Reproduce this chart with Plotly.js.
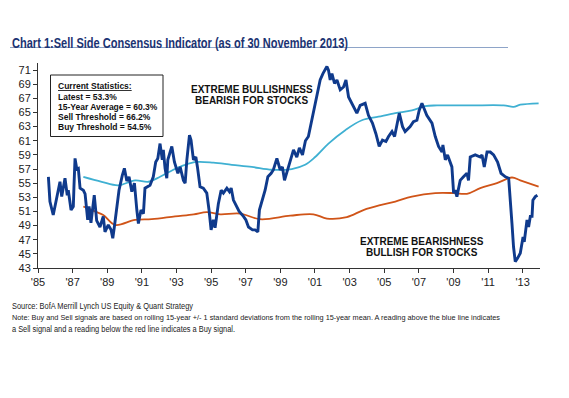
<!DOCTYPE html>
<html><head><meta charset="utf-8">
<script src="https://cdn.plot.ly/plotly-3.0.1.min.js"></script>
<style>html,body{margin:0;padding:0;background:#fff;}#chart{width:569px;height:398px;}</style>
</head><body><div id="chart"></div>
<script>
// Sell side consensus indicator (monthly-ish readings)
var consensusYears = [1985.60,1985.69,1985.88,1986.27,1986.37,1986.56,1986.69,1986.75,1986.91,1987.04,1987.08,1987.14,1987.24,1987.33,1987.43,1987.62,1987.72,1987.87,1987.95,1988.06,1988.25,1988.39,1988.58,1988.77,1988.87,1989.06,1989.22,1989.32,1989.41,1989.55,1989.68,1989.87,1989.99,1990.13,1990.26,1990.42,1990.57,1990.71,1990.80,1990.95,1991.09,1991.18,1991.47,1991.66,1991.80,1991.92,1992.05,1992.18,1992.24,1992.34,1992.44,1992.50,1992.73,1992.88,1993.08,1993.21,1993.40,1993.50,1993.60,1993.75,1993.84,1993.98,1994.12,1994.21,1994.36,1994.55,1994.75,1994.88,1995.00,1995.13,1995.23,1995.42,1995.58,1995.71,1995.91,1996.06,1996.16,1996.29,1996.49,1996.62,1996.87,1997.01,1997.16,1997.39,1997.54,1997.70,1997.79,1997.97,1998.12,1998.28,1998.47,1998.60,1998.80,1998.99,1999.12,1999.24,1999.43,1999.57,1999.76,1999.95,2000.10,2000.28,2000.45,2000.62,2000.82,2000.97,2001.11,2001.30,2001.46,2001.69,2001.78,2001.88,2001.98,2002.13,2002.27,2002.46,2002.65,2002.79,2002.94,2003.23,2003.42,2003.61,2003.90,2004.09,2004.32,2004.52,2004.71,2004.90,2005.10,2005.25,2005.45,2005.60,2005.73,2005.87,2006.06,2006.21,2006.50,2006.69,2006.89,2007.02,2007.18,2007.46,2007.76,2007.95,2008.14,2008.34,2008.39,2008.53,2008.66,2008.82,2008.91,2009.01,2009.10,2009.20,2009.39,2009.58,2009.78,2009.87,2009.97,2010.26,2010.55,2010.65,2010.78,2010.94,2011.13,2011.32,2011.55,2011.75,2012.00,2012.19,2012.28,2012.38,2012.47,2012.57,2012.71,2012.86,2013.02,2013.09,2013.25,2013.34,2013.44,2013.54,2013.59,2013.73,2013.85];
var consensusValues = [55.9,52.4,50.5,55.2,53.1,55.7,53.3,54.0,51.2,51.7,54.7,58.5,57.0,57.1,54.3,54.0,53.5,49.8,51.7,49.4,53.3,49.7,48.8,50.3,48.1,49.1,48.4,47.2,48.8,51.2,54.0,56.1,57.1,55.3,55.9,53.8,55.0,51.2,49.3,51.2,50.7,54.3,54.7,55.9,58.0,58.5,60.6,58.3,59.7,57.1,55.7,58.3,60.2,58.0,56.4,57.3,55.4,55.0,58.3,61.8,61.1,58.3,58.7,57.3,54.5,54.3,53.6,51.2,48.4,49.8,48.7,52.1,54.0,53.6,54.3,53.8,54.3,52.6,51.7,51.0,50.3,49.8,48.8,48.4,48.4,48.1,51.2,52.6,54.0,55.9,56.4,56.9,58.5,56.9,57.3,55.4,56.9,58.3,59.7,58.7,60.0,59.0,61.0,61.6,63.9,65.8,67.7,69.6,70.5,71.5,71.0,69.6,70.5,69.1,69.6,68.2,68.6,69.6,67.2,65.8,64.9,66.0,66.3,64.6,63.5,62.0,60.2,61.1,60.9,61.6,62.3,61.6,63.0,64.9,63.0,62.3,63.0,63.7,63.9,65.3,66.3,64.6,63.5,61.6,60.2,59.4,60.4,58.3,59.0,57.8,57.3,53.6,54.0,53.1,55.4,55.9,56.4,55.4,58.7,59.0,58.7,59.0,57.3,59.4,59.4,59.0,58.0,56.4,55.9,55.7,53.1,49.3,46.0,43.9,44.4,45.1,47.4,46.7,49.8,48.8,50.3,50.3,52.6,53.1,53.3];

// Sell threshold (rolling 15-yr mean + 1 sd)
var sellYears = [1987.62,1988.68,1989.64,1990.61,1991.38,1992.05,1992.82,1993.50,1994.17,1995.13,1996.20,1997.35,1998.51,1999.66,2000.43,2001.01,2001.78,2002.75,2003.71,2004.67,2005.64,2006.60,2007.37,2008.05,2009.97,2011.90,2012.47,2012.86,2013.92];
var sellValues = [55.9,55.2,54.7,55.4,55.2,55.9,56.9,57.6,58.0,57.9,57.6,57.3,56.9,57.0,57.6,58.7,60.6,62.5,63.9,64.4,64.9,65.3,65.9,66.0,66.0,66.0,65.8,66.1,66.3];

// Buy threshold (rolling 15-yr mean - 1 sd)
var buyYears = [1987.62,1988.29,1988.77,1989.45,1990.61,1991.57,1992.92,1994.00,1994.75,1995.52,1996.68,1997.83,1999.57,2000.91,2001.69,2002.84,2003.80,2004.77,2005.64,2006.60,2007.95,2009.01,2009.78,2010.55,2011.51,2012.38,2012.86,2013.92];
var buyValues = [51.7,51.0,50.5,49.1,49.8,49.9,50.3,50.6,50.9,50.6,50.7,49.9,50.4,50.6,50.0,50.2,51.2,51.9,52.4,53.1,53.6,53.6,53.5,54.3,55.0,55.8,55.4,54.5];

var tickYears = [1985,1987,1989,1991,1993,1995,1997,1999,2001,2003,2005,2007,2009,2011,2013];
var tickLabels = ["'85","'87","'89","'91","'93","'95","'97","'99","'01","'03","'05","'07","'09","'11","'13"];
var yTicks = [43,45,47,49,51,53,55,57,59,61,63,65,67,69,71];

var statsLines = ["Latest = 53.3%","15-Year Average = 60.3%","Sell Threshold = 66.2%","Buy Threshold = 54.5%"];

var L = 38, R = 540, T = 63, B = 268;
function px(x){ return (x - L) / (R - L); }
function py(y){ return (B - y) / (B - T); }

var sans = "'Liberation Sans', Arial, sans-serif";

var traces = [
  {x: sellYears, y: sellValues, mode: 'lines', line: {color: '#3fb0d2', width: 1.8, shape: 'spline'}, hoverinfo: 'skip'},
  {x: buyYears, y: buyValues, mode: 'lines', line: {color: '#d05418', width: 1.8, shape: 'spline'}, hoverinfo: 'skip'},
  {x: consensusYears, y: consensusValues, mode: 'lines', line: {color: '#0f3a8c', width: 2.9}, hoverinfo: 'skip'}
];

// annotations [0..3] are condensed texts: target pixel left edge and width
var condensedLeft = [12, 12, 12, 12];
var condensedWidths = [336, 181, 488, 223];
var annotations = [
  {xref:'paper', yref:'paper', x: px(10), y: py(43), xanchor:'left', yanchor:'middle', showarrow:false,
   text:'<b>Chart 1:Sell Side Consensus Indicator (as of 30 November 2013)</b>', font:{family: sans, size: 14, color:'#1b3372'}},
  {xref:'paper', yref:'paper', x: px(10), y: py(305.7), xanchor:'left', yanchor:'middle', showarrow:false,
   text:'Source: BofA Merrill Lynch US Equity &amp; Quant Strategy', font:{family: sans, size: 8.5, color:'#222'}},
  {xref:'paper', yref:'paper', x: px(10), y: py(317.3), xanchor:'left', yanchor:'middle', showarrow:false,
   text:'Note: Buy and Sell signals are based on rolling 15-year +/- 1 standard deviations from the rolling 15-year mean. A reading above the blue line indicates', font:{family: sans, size: 7.8, color:'#222'}},
  {xref:'paper', yref:'paper', x: px(10), y: py(329), xanchor:'left', yanchor:'middle', showarrow:false,
   text:'a Sell signal and a reading below the red line indicates a Buy signal.', font:{family: sans, size: 8.5, color:'#222'}},
  {xref:'paper', yref:'paper', x: px(56), y: py(85.5), xanchor:'left', yanchor:'middle', showarrow:false,
   text:'<b><u>Current Statistics:</u></b>', font:{family: sans, size: 8.5, color:'#111'}},
  {xref:'paper', yref:'paper', x: px(251.5), y: py(89.5), xanchor:'center', yanchor:'middle', showarrow:false,
   text:'<b>EXTREME BULLISHNESS</b>', font:{family: sans, size: 10, color:'#111'}},
  {xref:'paper', yref:'paper', x: px(251.5), y: py(100.5), xanchor:'center', yanchor:'middle', showarrow:false,
   text:'<b>BEARISH FOR STOCKS</b>', font:{family: sans, size: 10, color:'#111'}},
  {xref:'paper', yref:'paper', x: px(421.5), y: py(241.7), xanchor:'center', yanchor:'middle', showarrow:false,
   text:'<b>EXTREME BEARISHNESS</b>', font:{family: sans, size: 10, color:'#111'}},
  {xref:'paper', yref:'paper', x: px(421.5), y: py(252.7), xanchor:'center', yanchor:'middle', showarrow:false,
   text:'<b>BULLISH FOR STOCKS</b>', font:{family: sans, size: 10, color:'#111'}}
];
statsLines.forEach(function(s, i){
  annotations.push({xref:'paper', yref:'paper', x: px(56), y: py(97 + i*10.1), xanchor:'left', yanchor:'middle', showarrow:false,
    text:'<b>' + s + '</b>', font:{family: sans, size: 8.5, color:'#111'}});
});

var shapes = [
  {type:'line', xref:'paper', yref:'paper', x0: px(10), x1: px(508), y0: py(47.5), y1: py(47.5), line:{color:'#8ea4c8', width:1}},
  {type:'rect', xref:'paper', yref:'paper', x0: px(50.5), x1: px(163), y0: py(75), y1: py(136.5), fillcolor:'#fff', line:{color:'#222', width:1}}
];

var layout = {
  width: 569, height: 398,
  margin: {l: L, r: 569 - R, t: T, b: 398 - B, pad: 0},
  paper_bgcolor: '#fff', plot_bgcolor: '#fff',
  showlegend: false,
  font: {family: sans, color: '#222'},
  xaxis: {type:'linear', range:[1985, 2014], tickvals: tickYears, ticktext: tickLabels, ticks:'outside', ticklen:4, tickcolor:'#333',
          showline:true, linecolor:'#333', linewidth:1, showgrid:false, zeroline:false, tickfont:{family: sans, size:11, color:'#222'}, fixedrange:true},
  yaxis: {range:[43, 72], tickvals: yTicks, ticks:'outside', ticklen:4, tickcolor:'#333',
          showline:true, linecolor:'#333', linewidth:1, showgrid:false, zeroline:false, tickfont:{family: sans, size:11, color:'#222'}, fixedrange:true},
  annotations: annotations,
  shapes: shapes
};

function condense(){
  condensedWidths.forEach(function(w, i){
    var t = document.querySelector('#chart g.annotation[data-index="' + i + '"] text.annotation-text');
    if (!t) return;
    t.setAttribute('textLength', w);
    t.setAttribute('lengthAdjust', 'spacingAndGlyphs');
    t.setAttribute('text-anchor', 'start');
    t.style.textAnchor = 'start';
    var bb = t.getBoundingClientRect();
    var host = document.getElementById('chart').getBoundingClientRect();
    var curLeft = bb.left - host.left;
    var x0 = parseFloat(t.getAttribute('x')) || 0;
    t.setAttribute('x', x0 + (condensedLeft[i] - curLeft));
  });
}
Plotly.newPlot('chart', traces, layout, {displayModeBar:false, staticPlot:true}).then(condense);
</script></body></html>
